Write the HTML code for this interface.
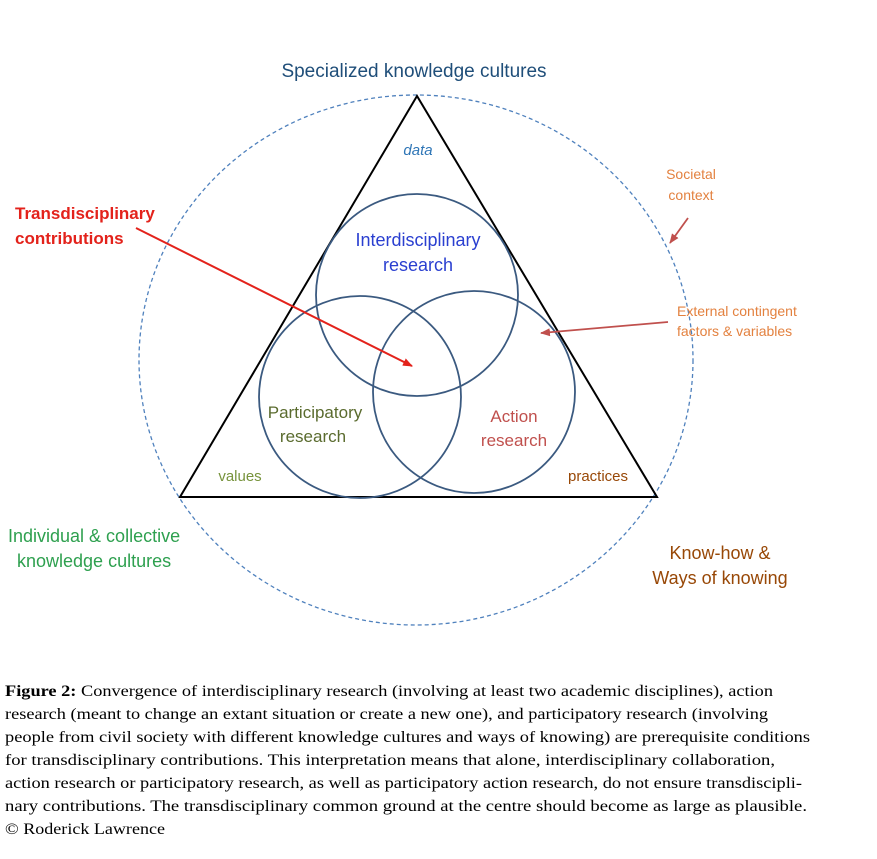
<!DOCTYPE html>
<html><head><meta charset="utf-8"><style>
html,body{margin:0;padding:0;background:#fff;}
svg{display:block;}
</style></head><body>
<svg width="877" height="859" viewBox="0 0 877 859" xmlns="http://www.w3.org/2000/svg">
<defs>
<marker id="ar" markerWidth="10" markerHeight="8" refX="9" refY="4" orient="auto" markerUnits="userSpaceOnUse"><path d="M0,0 L10,4 L0,8 Z" fill="#e3221b"/></marker>
<marker id="ab" markerWidth="10" markerHeight="8" refX="9" refY="4" orient="auto" markerUnits="userSpaceOnUse"><path d="M0,0 L10,4 L0,8 Z" fill="#c0504d"/></marker>
</defs>
<ellipse cx="416" cy="360" rx="277" ry="265" fill="none" stroke="#4f81bd" stroke-width="1.3" stroke-dasharray="4,3"/>
<polygon points="417,96 180,497 657,497" fill="none" stroke="#000" stroke-width="2"/>
<circle cx="417" cy="295" r="101" fill="none" stroke="#3b5a80" stroke-width="1.8"/>
<circle cx="360" cy="397" r="101" fill="none" stroke="#3b5a80" stroke-width="1.8"/>
<circle cx="474" cy="392" r="101" fill="none" stroke="#3b5a80" stroke-width="1.8"/>
<line x1="136" y1="228" x2="412" y2="366" stroke="#e3221b" stroke-width="2" marker-end="url(#ar)"/>
<line x1="668" y1="322" x2="541" y2="333" stroke="#c0504d" stroke-width="1.8" marker-end="url(#ab)"/>
<line x1="688" y1="218" x2="670" y2="243" stroke="#c0504d" stroke-width="1.8" marker-end="url(#ab)"/>
<g font-family="Liberation Sans, sans-serif">
<text x="414" y="77" font-size="19" fill="#1f4e79" text-anchor="middle">Specialized knowledge cultures</text>
<text x="418" y="155" font-size="15" font-style="italic" fill="#2e75b6" text-anchor="middle">data</text>
<text x="691" y="179" font-size="14" fill="#e3813f" text-anchor="middle">Societal</text>
<text x="691" y="200" font-size="14" fill="#e3813f" text-anchor="middle">context</text>
<text x="15" y="219" font-size="17" font-weight="bold" fill="#e3221b">Transdisciplinary</text>
<text x="15" y="244" font-size="17" font-weight="bold" fill="#e3221b">contributions</text>
<text x="418" y="246" font-size="18" fill="#2a3fd0" text-anchor="middle">Interdisciplinary</text>
<text x="418" y="271" font-size="18" fill="#2a3fd0" text-anchor="middle">research</text>
<text x="677" y="316" font-size="14" fill="#e3813f">External contingent</text>
<text x="677" y="336" font-size="14" fill="#e3813f">factors &amp; variables</text>
<text x="315" y="418" font-size="17" fill="#5a6b2e" text-anchor="middle">Participatory</text>
<text x="313" y="442" font-size="17" fill="#5a6b2e" text-anchor="middle">research</text>
<text x="514" y="422" font-size="17" fill="#c0504d" text-anchor="middle">Action</text>
<text x="514" y="446" font-size="17" fill="#c0504d" text-anchor="middle">research</text>
<text x="240" y="481" font-size="15" fill="#77933c" text-anchor="middle">values</text>
<text x="598" y="481" font-size="15" fill="#984807" text-anchor="middle">practices</text>
<text x="8" y="542" font-size="18" fill="#2ea04f">Individual &amp; collective</text>
<text x="17" y="567" font-size="18" fill="#2ea04f">knowledge cultures</text>
<text x="720" y="559" font-size="18" fill="#984807" text-anchor="middle">Know-how &amp;</text>
<text x="720" y="584" font-size="18" fill="#984807" text-anchor="middle">Ways of knowing</text>
</g>
<g font-family="Liberation Serif, serif" font-size="16" fill="#000">
<text x="5" y="696" textLength="768" lengthAdjust="spacingAndGlyphs"><tspan font-weight="bold">Figure 2:</tspan> Convergence of interdisciplinary research (involving at least two academic disciplines), action</text>
<text x="5" y="719" textLength="763" lengthAdjust="spacingAndGlyphs">research (meant to change an extant situation or create a new one), and participatory research (involving</text>
<text x="5" y="742" textLength="805" lengthAdjust="spacingAndGlyphs">people from civil society with different knowledge cultures and ways of knowing) are prerequisite conditions</text>
<text x="5" y="765" textLength="770" lengthAdjust="spacingAndGlyphs">for transdisciplinary contributions. This interpretation means that alone, interdisciplinary collaboration,</text>
<text x="5" y="788" textLength="797" lengthAdjust="spacingAndGlyphs">action research or participatory research, as well as participatory action research, do not ensure transdiscipli-</text>
<text x="5" y="811" textLength="802" lengthAdjust="spacingAndGlyphs">nary contributions. The transdisciplinary common ground at the centre should become as large as plausible.</text>
<text x="5" y="834" textLength="160" lengthAdjust="spacingAndGlyphs">© Roderick Lawrence</text>
</g>
</svg>
</body></html>
